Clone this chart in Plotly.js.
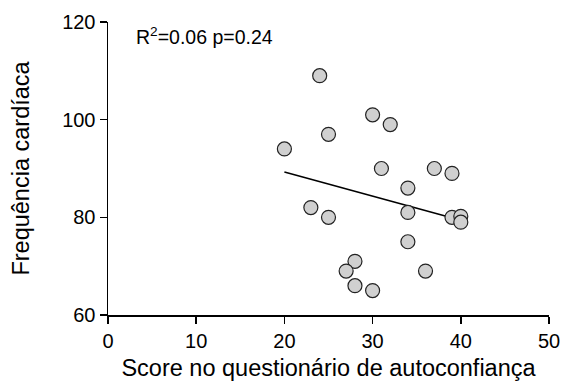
<!DOCTYPE html>
<html>
<head>
<meta charset="utf-8">
<script src="https://cdn.plot.ly/plotly-3.0.1.min.js"></script>
<style>
html,body{margin:0;padding:0;background:#fff;}
#chart{width:561px;height:387px;}
</style>
</head>
<body>
<div id="chart"></div>
<script>
// Data
const scoreX = [20, 24, 25, 23, 25, 30, 32, 31, 34, 37, 39, 34, 39, 40, 40, 34, 28, 27, 28, 30, 36];
const heartY = [94, 109, 97, 82, 80, 101, 99, 90, 86, 90, 89, 81, 80, 80.2, 79, 75, 71, 69, 66, 65, 69];
const fitX = [20, 40];
const fitY = [89.3, 79.4];
const xTicks = [0, 10, 20, 30, 40, 50];
const yTicks = [60, 80, 100, 120];
const statsText = 'R<sup>2</sup>=0.06 p=0.24';
const xTitle = 'Score no questionário de autoconfiança';
const yTitle = 'Frequência cardíaca';

const FONT = 'Liberation Sans, Arial, sans-serif';

const traces = [
  {
    x: fitX, y: fitY, type: 'scatter', mode: 'lines',
    line: {color: '#000', width: 1.6},
    hoverinfo: 'skip', showlegend: false
  },
  {
    x: scoreX, y: heartY, type: 'scatter', mode: 'markers',
    marker: {size: 14, color: '#d0d0d0', line: {color: '#222', width: 1.2}},
    showlegend: false
  }
];

const layout = {
  width: 561, height: 387,
  margin: {l: 108, r: 12, t: 22, b: 72},
  paper_bgcolor: '#fff', plot_bgcolor: '#fff',
  font: {family: FONT, color: '#000', size: 20},
  showlegend: false,
  xaxis: {
    range: [0, 50], tickvals: xTicks, ticktext: xTicks.map(String),
    showgrid: false, zeroline: false, showline: true, linecolor: '#000', linewidth: 1.5,
    ticks: 'outside', ticklen: 7, tickwidth: 1.5, tickcolor: '#000',
    tickfont: {family: FONT, size: 20, color: '#000'},
    title: {text: xTitle, font: {family: FONT, size: 23.5, color: '#000'}, standoff: 9},
    fixedrange: true
  },
  yaxis: {
    range: [60, 120], tickvals: yTicks, ticktext: yTicks.map(String),
    showgrid: false, zeroline: false, showline: true, linecolor: '#000', linewidth: 1.5,
    ticks: 'outside', ticklen: 7, tickwidth: 1.5, tickcolor: '#000',
    tickfont: {family: FONT, size: 20, color: '#000'},
    title: {text: yTitle, font: {family: FONT, size: 23.5, color: '#000'}, standoff: 26},
    fixedrange: true
  },
  annotations: [{
    xref: 'paper', yref: 'paper', x: 0.058, y: 1.0, xanchor: 'left', yanchor: 'top',
    text: statsText, showarrow: false,
    font: {family: FONT, size: 19.5, color: '#000'}
  }]
};

Plotly.newPlot('chart', traces, layout, {displayModeBar: false, staticPlot: true});
</script>
</body>
</html>
